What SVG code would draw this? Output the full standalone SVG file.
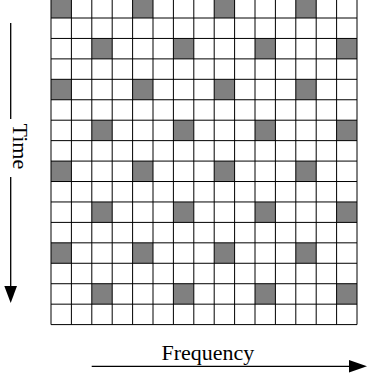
<svg xmlns="http://www.w3.org/2000/svg" width="375" height="379" viewBox="0 0 375 379">
<style>
.cell{fill:#808080;stroke:none}
.grid{stroke:#000;stroke-width:1;fill:none}
.ax{stroke:#000;stroke-width:1.3;fill:none}
.head{fill:#000;stroke:none}
.lbl{font-family:"Liberation Serif","Times New Roman",serif;font-size:22px;fill:#000}
</style>
<rect width="375" height="379" fill="#fff"/>
<g id="cells">
<rect class="cell" x="51" y="-2.44" width="20.4" height="20.44"/>
<rect class="cell" x="132.6" y="-2.44" width="20.4" height="20.44"/>
<rect class="cell" x="214.2" y="-2.44" width="20.4" height="20.44"/>
<rect class="cell" x="295.8" y="-2.44" width="20.4" height="20.44"/>
<rect class="cell" x="91.8" y="38.44" width="20.4" height="20.44"/>
<rect class="cell" x="173.4" y="38.44" width="20.4" height="20.44"/>
<rect class="cell" x="255" y="38.44" width="20.4" height="20.44"/>
<rect class="cell" x="336.6" y="38.44" width="20.4" height="20.44"/>
<rect class="cell" x="51" y="79.32" width="20.4" height="20.44"/>
<rect class="cell" x="132.6" y="79.32" width="20.4" height="20.44"/>
<rect class="cell" x="214.2" y="79.32" width="20.4" height="20.44"/>
<rect class="cell" x="295.8" y="79.32" width="20.4" height="20.44"/>
<rect class="cell" x="91.8" y="120.2" width="20.4" height="20.44"/>
<rect class="cell" x="173.4" y="120.2" width="20.4" height="20.44"/>
<rect class="cell" x="255" y="120.2" width="20.4" height="20.44"/>
<rect class="cell" x="336.6" y="120.2" width="20.4" height="20.44"/>
<rect class="cell" x="51" y="161.08" width="20.4" height="20.44"/>
<rect class="cell" x="132.6" y="161.08" width="20.4" height="20.44"/>
<rect class="cell" x="214.2" y="161.08" width="20.4" height="20.44"/>
<rect class="cell" x="295.8" y="161.08" width="20.4" height="20.44"/>
<rect class="cell" x="91.8" y="201.96" width="20.4" height="20.44"/>
<rect class="cell" x="173.4" y="201.96" width="20.4" height="20.44"/>
<rect class="cell" x="255" y="201.96" width="20.4" height="20.44"/>
<rect class="cell" x="336.6" y="201.96" width="20.4" height="20.44"/>
<rect class="cell" x="51" y="242.84" width="20.4" height="20.44"/>
<rect class="cell" x="132.6" y="242.84" width="20.4" height="20.44"/>
<rect class="cell" x="214.2" y="242.84" width="20.4" height="20.44"/>
<rect class="cell" x="295.8" y="242.84" width="20.4" height="20.44"/>
<rect class="cell" x="91.8" y="283.72" width="20.4" height="20.44"/>
<rect class="cell" x="173.4" y="283.72" width="20.4" height="20.44"/>
<rect class="cell" x="255" y="283.72" width="20.4" height="20.44"/>
<rect class="cell" x="336.6" y="283.72" width="20.4" height="20.44"/>
</g>
<g id="grid" class="grid">
<path d="M51,-3V324.6M71.4,-3V324.6M91.8,-3V324.6M112.2,-3V324.6M132.6,-3V324.6M153,-3V324.6M173.4,-3V324.6M193.8,-3V324.6M214.2,-3V324.6M234.6,-3V324.6M255,-3V324.6M275.4,-3V324.6M295.8,-3V324.6M316.2,-3V324.6M336.6,-3V324.6M357,-3V324.6"/>
<path d="M51,18H357M51,38.44H357M51,58.88H357M51,79.32H357M51,99.76H357M51,120.2H357M51,140.64H357M51,161.08H357M51,181.52H357M51,201.96H357M51,222.4H357M51,242.84H357M51,263.28H357M51,283.72H357M51,304.16H357M51,324.6H357"/>
</g>
<g id="time-axis">
<path class="ax" d="M10.7,23V119M10.7,177V288"/>
<polygon class="head" points="4.3,286 17,286 10.7,303"/>
<text class="lbl" transform="translate(13.3,123.5) rotate(90)">Time</text>
</g>
<g id="frequency-axis">
<path class="ax" d="M91.7,366.3H351"/>
<polygon class="head" points="349,360 349,372.5 367,366.3"/>
<text class="lbl" x="161.5" y="360">Frequency</text>
</g>
</svg>
